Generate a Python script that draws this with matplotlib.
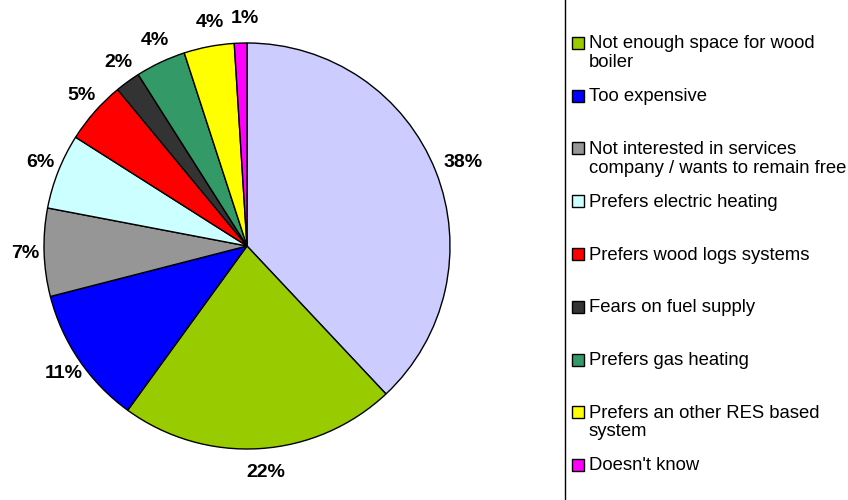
import matplotlib
matplotlib.use("Agg")
import matplotlib.pyplot as plt
import matplotlib.transforms as mtransforms
from matplotlib.patches import Rectangle

plt.rcParams['font.family'] = ['Liberation Sans', 'DejaVu Sans']

# Reasons for not choosing a wood-chip heating service (share of answers, %)
shares = [38, 22, 11, 7, 6, 5, 2, 4, 4, 1]
colors = ['#CCCCFF', '#99CC00', '#0000FF', '#969696', '#CCFFFF',
          '#FF0000', '#333333', '#339966', '#FFFF00', '#FF00FF']
legend_labels = [
    None,
    'Not enough space for wood\nboiler',
    'Too expensive',
    'Not interested in services\ncompany / wants to remain free',
    'Prefers electric heating',
    'Prefers wood logs systems',
    'Fears on fuel supply',
    'Prefers gas heating',
    'Prefers an other RES based\nsystem',
    "Doesn't know",
]

W, H = 848, 500
fig = plt.figure(figsize=(W / 100, H / 100), dpi=100)

# pie: centre (247, 246) px, radius 203 px
cx, cy, r = 247, 246, 203
ax = fig.add_axes([(cx - r) / W, (H - cy - r) / H, 2 * r / W, 2 * r / H])
wedges, texts, autotexts = ax.pie(
    shares, colors=colors, startangle=90, counterclock=False,
    autopct=lambda p: f'{p:.0f}%', pctdistance=1.12,
    wedgeprops=dict(edgecolor='black', linewidth=1.0),
    textprops=dict(fontsize=14, fontweight='bold', color='black'),
)
ax.set_xlim(-1, 1)
ax.set_ylim(-1, 1)
ax.set_aspect('equal')
# small rightward nudge of the percentage labels
nudge = mtransforms.ScaledTranslation(5 / 100, 0, fig.dpi_scale_trans)
for t in autotexts:
    t.set_clip_on(False)
    t.set_transform(t.get_transform() + nudge)

# legend frame (extends past the figure edges)
fig.patches.append(Rectangle((565 / W, -0.05), 0.5, 1.1, transform=fig.transFigure,
                             facecolor='none', edgecolor='black', linewidth=1.0))

# legend entries, evenly spaced from the top of the frame
y_first = -9.75
step = 52.75
for i, (lab, col) in enumerate(zip(legend_labels, colors)):
    if lab is None:
        continue
    y = y_first + i * step
    fig.patches.append(Rectangle((572 / W, 1 - (y + 6) / H), 12 / W, 12 / H,
                                 transform=fig.transFigure, facecolor=col,
                                 edgecolor='black', linewidth=1.0))
    fig.text(589 / W, 1 - (y - 7.5) / H, lab, fontsize=13.3, va='top', ha='left',
             linespacing=1.13)

fig.savefig('out.png', dpi=100)
